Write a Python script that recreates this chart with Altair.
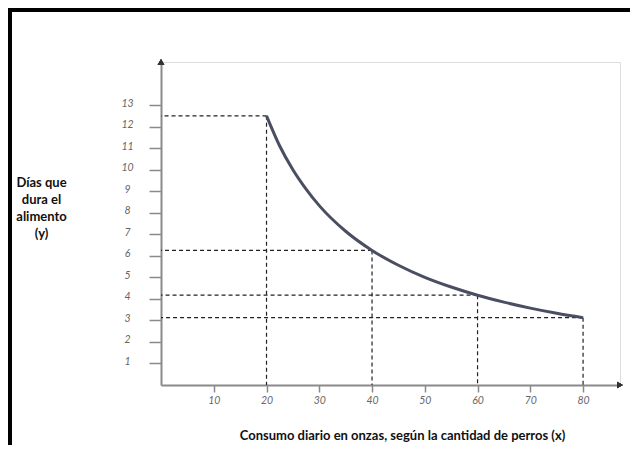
import altair as alt
import pandas as pd

# Values
curve_x = [20, 22.5, 25, 27.5, 30, 35, 40, 45, 50, 55, 60, 65, 70, 75, 80]
curve_y = [12.5, 11.1, 10.0, 9.1, 8.33, 7.14, 6.25, 5.56, 5.0, 4.55, 4.17, 3.85, 3.57, 3.33, 3.125]

guide_x = [20, 40, 60, 80]
guide_y = [12.5, 6.25, 4.17, 3.125]

x_ticks = [10, 20, 30, 40, 50, 60, 70, 80]
y_ticks = [1, 2, 3, 4, 5, 6, 7, 8, 9, 10, 11, 12, 13]

x_title = "Consumo diario en onzas, según la cantidad de perros (x)"
y_title = ["Días que", "dura el", "alimento", "(y)"]

W, H = 459, 323

curve = pd.DataFrame({"x": curve_x, "y": curve_y})
guides = pd.DataFrame({"x": guide_x, "y": guide_y, "zero": [0] * len(guide_x)})

x_scale = alt.Scale(domain=[0, 87], nice=False, zero=False)
y_scale = alt.Scale(domain=[0, 15], nice=False, zero=False)

label_font = "Lato"
title_font = "Lato"

x_axis = alt.Axis(
    values=x_ticks, tickCount=30, format="d", title=x_title, grid=False, labelOverlap=False,
    domainColor="#8a8a8a", domainWidth=2, tickColor="#8a8a8a", tickWidth=1.5, tickSize=7,
    labelFont=label_font, labelFontStyle="italic", labelFontSize=10.5, labelColor="#666666",
    labelPadding=3,
    titleFont=title_font, titleFontWeight="bold", titleFontSize=13, titleColor="#111111",
    titleX=241, titleY=50, titleAlign="center", titleBaseline="middle", titleAnchor="start",
)
y_axis = alt.Axis(
    values=y_ticks, tickCount=30, format="d", title=y_title, grid=False, labelOverlap=False,
    domainColor="#8a8a8a", domainWidth=2, tickColor="#8a8a8a", tickWidth=1.5, tickSize=12,
    labelFont=label_font, labelFontStyle="italic", labelFontSize=10.5, labelColor="#666666",
    labelPadding=22, labelAlign="center", labelOffset=-2,
    titleFont=title_font, titleFontWeight="bold", titleFontSize=13, titleColor="#111111",
    titleAngle=0, titleX=-120, titleY=120, titleAlign="center", titleBaseline="middle",
    titleLineHeight=17, titleAnchor="start",
)

base_x = alt.X("x:Q", scale=x_scale, axis=x_axis)
base_y = alt.Y("y:Q", scale=y_scale, axis=y_axis)

dash = [4, 3]

h_rules = alt.Chart(guides).mark_rule(color="#222222", strokeWidth=1.2, strokeDash=dash).encode(
    x=base_x, x2="zero:Q", y=base_y
)
v_rules = alt.Chart(guides).mark_rule(color="#222222", strokeWidth=1.2, strokeDash=dash).encode(
    x=alt.X("x:Q", scale=x_scale), y=alt.Y("y:Q", scale=y_scale), y2="zero:Q"
)

line = alt.Chart(curve).mark_line(
    color="#4a4e62", strokeWidth=3, interpolate="monotone"
).encode(x=alt.X("x:Q", scale=x_scale), y=alt.Y("y:Q", scale=y_scale))

arrow_up = alt.Chart(guides).mark_point(
    shape="triangle-up", filled=True, color="#333333", size=45, opacity=1
).encode(x=alt.value(0), y=alt.value(0))
arrow_right = alt.Chart(guides).mark_point(
    shape="triangle-right", filled=True, color="#333333", size=45, opacity=1
).encode(x=alt.value(W), y=alt.value(H))

border_top = alt.Chart(guides).mark_rule(color="#000000", strokeWidth=4).encode(
    x=alt.value(-153), x2=alt.value(W + 20), y=alt.value(-52)
)
border_left = alt.Chart(guides).mark_rule(color="#000000", strokeWidth=4).encode(
    x=alt.value(-151), y=alt.value(-54), y2=alt.value(H + 70)
)

chart = alt.layer(
    h_rules, v_rules, line, arrow_up, arrow_right, border_top, border_left
).properties(
    width=W, height=H,
    autosize=alt.AutoSizeParams(type="none"),
    padding={"left": 153, "top": 54, "right": 10, "bottom": 60},
).configure_view(stroke=None).configure(background="white")

chart.save("out.html", embed_options={"renderer": "svg", "actions": False})
